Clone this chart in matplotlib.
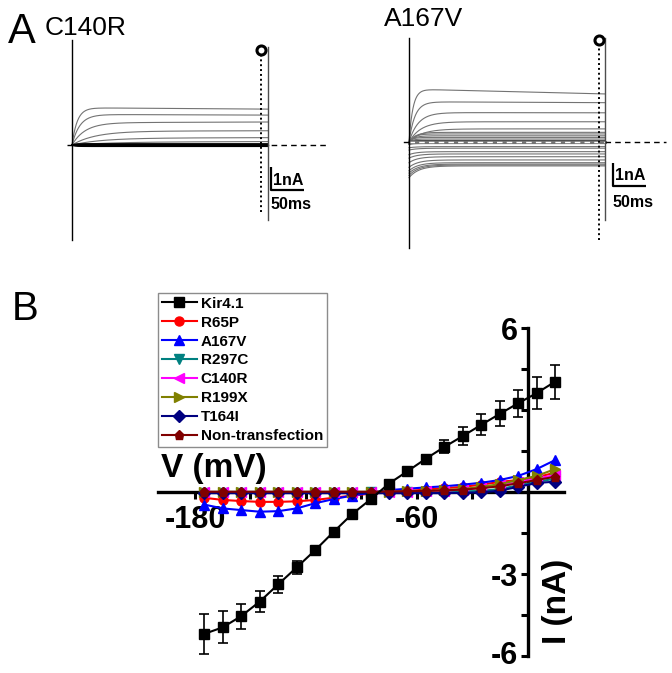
#!/usr/bin/env python3
"""
Kir4.1 mutant currents: example traces (A) and I-V curves (B)
"""

import numpy as np
import matplotlib
matplotlib.use('Agg')
import matplotlib.pyplot as plt
from matplotlib.transforms import ScaledTranslation

plt.rcParams['font.family'] = ['Liberation Sans', 'DejaVu Sans']

W, H = 672, 673

# ---- panel A: current traces (levels in nA, time constants in ms) ----
pulse_ms = 300
c140r_plateau = [1.62, 1.33, 0.97, 0.60, 0.30, 0.13]
c140r_end = [1.56, 1.30, 1.00, 0.62, 0.32, 0.15]
c140r_tau = [8, 12, 20, 35, 45, 60]
c140r_flat = [-0.06, -0.03, 0.0, 0.03, 0.05]

a167v_plateau = [2.30, 1.75, 1.28, 0.88, 0.57, 0.42, 0.35, 0.27, 0.20, 0.13,
                 -0.20, -0.27, -0.42, -0.52, -0.64, -0.78, -0.90, -0.96, -1.00, -1.04]
a167v_start = [0, 0, 0, 0, 0, 0, 0, 0, 0, 0,
               -0.25, -0.35, -0.55, -0.70, -0.90, -1.10, -1.25, -1.35, -1.45, -1.55]
a167v_end = [2.09, 1.71, 1.27, 0.88, 0.57, 0.42, 0.35, 0.27, 0.20, 0.13,
             -0.20, -0.27, -0.42, -0.52, -0.64, -0.78, -0.90, -0.96, -1.00, -1.04]
a167v_tau = [6, 9, 14, 18, 20, 10, 8, 8, 6, 6,
             12, 12, 12, 13, 13, 14, 14, 15, 15, 15]

# ---- panel B: I-V data ----
voltage = [-175, -165, -155, -145, -135, -125, -115, -105, -95, -85,
           -75, -65, -55, -45, -35, -25, -15, -5, 5, 15]
kir41 = [-5.18, -4.94, -4.53, -4.00, -3.37, -2.75, -2.12, -1.45, -0.80, -0.26,
         0.32, 0.77, 1.23, 1.66, 2.06, 2.47, 2.87, 3.26, 3.63, 4.05]
kir41_err = [0.73, 0.58, 0.46, 0.38, 0.32, 0.25, 0.10, 0.08, 0.06, 0.06,
             0.06, 0.08, 0.12, 0.24, 0.32, 0.38, 0.46, 0.50, 0.57, 0.62]
r65p = [-0.20, -0.28, -0.32, -0.35, -0.35, -0.33, -0.28, -0.20, -0.12, -0.05,
        0.00, 0.05, 0.10, 0.15, 0.20, 0.28, 0.38, 0.45, 0.55, 0.72]
a167v = [-0.45, -0.59, -0.65, -0.71, -0.69, -0.59, -0.40, -0.25, -0.12, -0.02,
         0.08, 0.13, 0.18, 0.22, 0.28, 0.35, 0.45, 0.60, 0.85, 1.18]
r297c = [-0.02, -0.02, -0.02, -0.02, -0.02, -0.02, -0.02, -0.01, -0.01, 0.00,
         0.00, 0.00, 0.01, 0.02, 0.03, 0.05, 0.12, 0.25, 0.38, 0.50]
c140r = [0.00, 0.00, 0.00, 0.00, 0.00, 0.00, 0.00, 0.00, 0.00, 0.01,
         0.01, 0.02, 0.03, 0.06, 0.10, 0.17, 0.25, 0.38, 0.50, 0.63]
r199x = [0.01, 0.01, 0.01, 0.01, 0.01, 0.01, 0.01, 0.01, 0.01, 0.01,
         0.02, 0.03, 0.05, 0.08, 0.12, 0.20, 0.30, 0.45, 0.60, 0.85]
t164i = [-0.03, -0.03, -0.03, -0.03, -0.03, -0.03, -0.03, -0.03, -0.03, -0.03,
         -0.03, -0.03, -0.03, -0.03, -0.02, 0.00, 0.06, 0.20, 0.34, 0.39]
nontrans = [0.02, 0.02, 0.02, 0.02, 0.02, 0.02, 0.02, 0.02, 0.02, 0.02,
            0.03, 0.04, 0.05, 0.07, 0.10, 0.15, 0.22, 0.33, 0.45, 0.57]

series = [
    ('Kir4.1', kir41, 'black', 's'),
    ('R65P', r65p, '#ff0000', 'o'),
    ('A167V', a167v, '#0000ff', '^'),
    ('R297C', r297c, '#008080', 'v'),
    ('C140R', c140r, '#ff00ff', '<'),
    ('R199X', r199x, '#808000', '>'),
    ('T164I', t164i, '#000080', 'D'),
    ('Non-transfection', nontrans, '#800000', 'p'),
]
# drawing order (later = on top), Kir4.1 drawn last
draw_order = [3, 4, 5, 6, 1, 2, 7, 0]


def px_axes(fig, x0, y0, x1, y1):
    return fig.add_axes([x0 / W, 1 - y1 / H, (x1 - x0) / W, (y1 - y0) / H])


def trace_axes(fig, box, ox, base, sx, sy):
    ax = px_axes(fig, *box)
    x0, y0, x1, y1 = box
    ax.set_xlim((x0 - ox) / sx, (x1 - ox) / sx)
    ax.set_ylim((base - y1) / sy, (base - y0) / sy)
    ax.axis('off')
    return ax


def draw_traces(ax, plateau, start, end, tau, color='0.45', lw=0.8):
    t = np.linspace(0, pulse_ms, 600)
    for p, s, e, tc in zip(plateau, start, end, tau):
        y = p + (s - p) * np.exp(-t / tc) + (e - p) * t / pulse_ms
        ax.plot(t, y, color=color, lw=lw, zorder=2)


def scale_bar(ax, t0, i0, txt_t, i_txt, i_txt2):
    ax.plot([t0, t0, t0 + 50], [i0 + 1, i0, i0], color='black', lw=1.6,
            solid_capstyle='butt', zorder=5)
    ax.text(txt_t, i_txt, '1nA', fontsize=11.5, fontweight='bold',
            ha='left', va='center')
    ax.text(t0 - 1, i_txt2, '50ms', fontsize=11.5, fontweight='bold',
            ha='left', va='center')


fig = plt.figure(figsize=(W / 100, H / 100), dpi=100)

sx = 196 / pulse_ms  # px per ms
sy = 23.0            # px per nA

# --- C140R traces ---
ax1 = trace_axes(fig, (55, 30, 335, 250), 72, 145, sx, sy)
draw_traces(ax1, c140r_plateau, [0] * len(c140r_plateau), c140r_end, c140r_tau)
draw_traces(ax1, c140r_flat, [0] * len(c140r_flat), c140r_flat,
            [5] * len(c140r_flat), color='black', lw=1.0)
ax1.plot([-8, 390], [0, 0], color='black', lw=1, dashes=(4, 3), zorder=3)
ax1.plot([0, 0], [-4.13, 4.57], color='black', lw=1, zorder=4)
ax1.plot([pulse_ms, pulse_ms], [-3.26, 4.26], color='0.3', lw=1, zorder=4)
ax1.plot([289, 289], [-2.91, 3.85], color='black', lw=1.4, ls=(0, (1, 1.5)), zorder=4)
ax1.plot([289], [4.13], marker='o', ms=6.5, mfc='white', mec='black', mew=2.2, zorder=6)
scale_bar(ax1, 304.7, -1.96, 308, -1.55, -2.6)

# --- A167V traces ---
ax2 = trace_axes(fig, (395, 30, 672, 250), 409, 142, sx, sy)
draw_traces(ax2, a167v_plateau, a167v_start, a167v_end, a167v_tau)
draw_traces(ax2, [0.06, -0.06], [0, -0.1], [0.06, -0.06], [5, 5],
            color='0.3', lw=1.0)
ax2.plot([0, pulse_ms], [0, 0], color='0.45', lw=2.2, zorder=3)
ax2.plot([0, pulse_ms], [0, 0], color='white', lw=1.0, dashes=(4, 3), zorder=3)
ax2.plot([-8, 0], [0, 0], color='black', lw=1, zorder=3)
ax2.plot([pulse_ms, 393], [0, 0], color='black', lw=1, dashes=(4, 3), zorder=3)
ax2.plot([0, 0], [-4.6, 4.52], color='black', lw=1, zorder=4)
ax2.plot([pulse_ms, pulse_ms], [-3.39, 4.52], color='0.3', lw=1, zorder=4)
ax2.plot([291, 291], [-4.26, 4.15], color='black', lw=1.4, ls=(0, (1, 1.5)), zorder=4)
ax2.plot([291], [4.43], marker='o', ms=6.5, mfc='white', mec='black', mew=2.2, zorder=6)
scale_bar(ax2, 312.4, -1.91, 316, -1.45, -2.65)

fig.text(8 / W, 1 - 43 / H, 'A', fontsize=30, ha='left', va='baseline')
fig.text(45 / W, 1 - 35 / H, 'C140R', fontsize=19, ha='left', va='baseline')
fig.text(384 / W, 1 - 26 / H, 'A167V', fontsize=19, ha='left', va='baseline')
fig.text(12 / W, 1 - 320 / H, 'B', fontsize=29, ha='left', va='baseline')

# --- panel B: I-V curves ---
x0px = 527.5 - 200 * 1.847
x1px = 527.5 + 20 * 1.847
ax = px_axes(fig, x0px, 328.3, x1px, 656.3)
ax.set_xlim(-200, 20)
ax.set_ylim(-6, 6)
ax.patch.set_alpha(0)

handles = {}
for i in draw_order:
    name, vals, color, mk = series[i]
    ms = 7 if name == 'Kir4.1' else 6.5
    if name == 'Kir4.1':
        ax.errorbar(voltage, vals, yerr=kir41_err, fmt='none', ecolor='black',
                    elinewidth=1.2, capsize=3.5, capthick=1.2, zorder=9,
                    clip_on=False)
    ln, = ax.plot(voltage, vals, color=color, marker=mk, ms=ms, lw=1.5,
                  zorder=10 if name == 'Kir4.1' else 4 + i * 0.1, clip_on=False)
    handles[name] = ln

for side in ('top', 'right'):
    ax.spines[side].set_visible(False)
ax.spines['left'].set_position(('data', 0))
ax.spines['bottom'].set_position(('data', 0))
for side in ('left', 'bottom'):
    ax.spines[side].set_linewidth(2.4)
    ax.spines[side].set_zorder(3)

ax.set_xticks([-180, -150, -120, -90, -60, -30])
ax.set_xticklabels(['-180', '', '', '', '-60', ''])
ax.set_yticks([-6, -4.5, -3, -1.5, 0, 1.5, 3, 4.5, 6])
ax.set_yticklabels(['-6', '', '-3', '', '', '', '', '', '6'])
ax.tick_params(axis='both', width=2.2, length=5, labelsize=22, pad=2)
ax.tick_params(axis='x', pad=4)
for lab in ax.get_xticklabels() + ax.get_yticklabels():
    lab.set_fontweight('bold')
# lift the bottom "-6" a touch so it stays inside the figure
bottom_lab = ax.get_yticklabels()[0]
bottom_lab.set_transform(bottom_lab.get_transform()
                         + ScaledTranslation(0, 3 / 72, fig.dpi_scale_trans))

ax.text(-198.4, 0.56, 'V (mV)', fontsize=24, fontweight='bold',
        ha='left', va='baseline')
ax.text(16, -4.0, 'I (nA)', fontsize=24, fontweight='bold', rotation=90,
        ha='center', va='center')

leg = fig.legend([handles[s[0]] for s in series], [s[0] for s in series],
                 loc='upper left', bbox_to_anchor=(158 / W, 1 - 293 / H),
                 bbox_transform=fig.transFigure, borderaxespad=0,
                 prop={'weight': 'bold', 'size': 11}, handlelength=2.3,
                 handletextpad=0.25, labelspacing=0.32, borderpad=0.25,
                 fancybox=False, framealpha=1, markerscale=1.0)
leg.get_frame().set_edgecolor('0.55')
leg.get_frame().set_linewidth(1.0)

fig.savefig('out.png', dpi=100)
